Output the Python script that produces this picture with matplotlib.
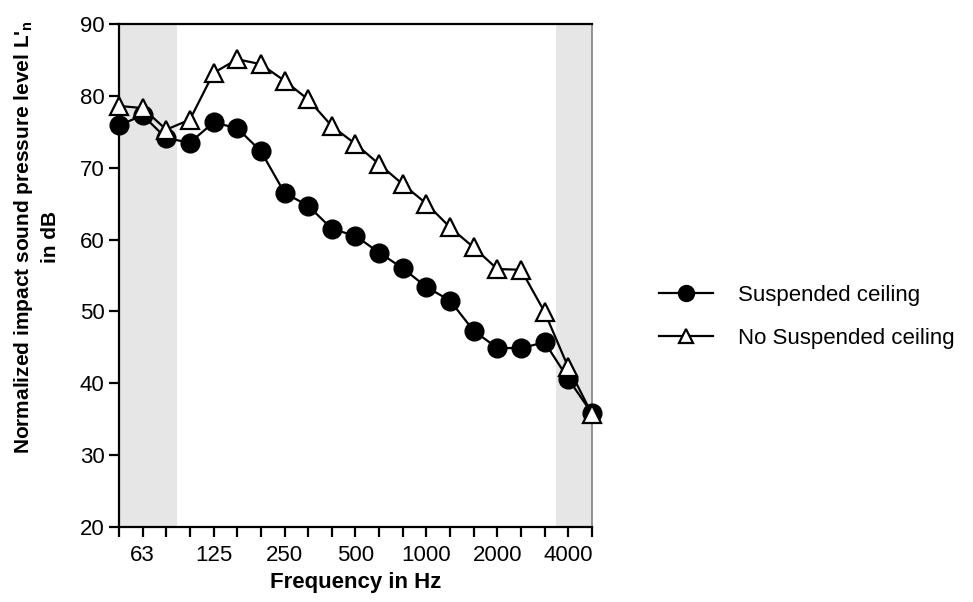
import numpy as np
import matplotlib
matplotlib.use("Agg")
import matplotlib.pyplot as plt

plt.rcParams['font.family'] = ['Liberation Sans', 'DejaVu Sans']

# third-octave bands 50 Hz .. 5000 Hz
bands = [50, 63, 80, 100, 125, 160, 200, 250, 315, 400, 500, 630,
         800, 1000, 1250, 1600, 2000, 2500, 3150, 4000, 5000]
labelled = [63, 125, 250, 500, 1000, 2000, 4000]

suspended = [75.9, 77.3, 74.1, 73.5, 76.3, 75.5, 72.3, 66.5, 64.7, 61.5, 60.5,
             58.2, 56.0, 53.4, 51.5, 47.3, 44.9, 44.9, 45.7, 40.6, 35.8]
no_suspended = [78.6, 78.3, 75.3, 76.7, 83.2, 85.1, 84.4, 82.1, 79.5, 75.8, 73.3,
                70.5, 67.7, 65.0, 61.7, 58.9, 55.9, 55.8, 49.9, 42.2, 35.7]

x = np.arange(len(bands))

fig = plt.figure(figsize=(9.73, 6.02), dpi=100)
ax = fig.add_axes([0.1223, 0.1246, 0.6084 - 0.1223, 0.9601 - 0.1246])

# shaded ranges outside 100-3150 Hz
ax.axvspan(-0.5, 2.45, color="#e6e6e6", zorder=0, lw=0)
ax.axvspan(18.48, 20.5, color="#e6e6e6", zorder=0, lw=0)

ax.plot(x, suspended, color="black", lw=1.6, marker="o", ms=13.5,
        mfc="black", mec="black", label="Suspended ceiling", clip_on=False, zorder=3)
ax.plot(x, no_suspended, color="black", lw=1.6, marker="^", ms=12.5,
        mfc="white", mec="black", mew=1.6, label="No Suspended ceiling",
        clip_on=False, zorder=4)

ax.set_xlim(0, len(bands) - 1)
ax.set_ylim(20, 90)
ax.set_yticks(range(20, 91, 10))
ax.set_xticks(x)
ax.set_xticklabels([str(b) if b in labelled else "" for b in bands])

ax.tick_params(axis="both", direction="out", length=7, width=1.6, labelsize=16)
ax.tick_params(axis="x", pad=6)
for s in ["left", "bottom", "top"]:
    ax.spines[s].set_linewidth(1.6)
ax.spines["right"].set_color("#808080")
ax.spines["right"].set_linewidth(1.2)

ax.set_xlabel("Frequency in Hz", fontsize=16, fontweight="bold", labelpad=4)
ax.set_ylabel("Normalized impact sound pressure level L'$_\\mathregular{n}$\nin dB",
              fontsize=15, fontweight="bold", linespacing=1.45)
ax.yaxis.set_label_coords(-0.124, 0.577)

fig.legend(loc="center left", bbox_to_anchor=(0.657, 0.474), frameon=False,
           fontsize=16, handlelength=2.4, handletextpad=1.15, labelspacing=0.98,
           markerscale=0.85)

fig.savefig("out.png", dpi=100)
